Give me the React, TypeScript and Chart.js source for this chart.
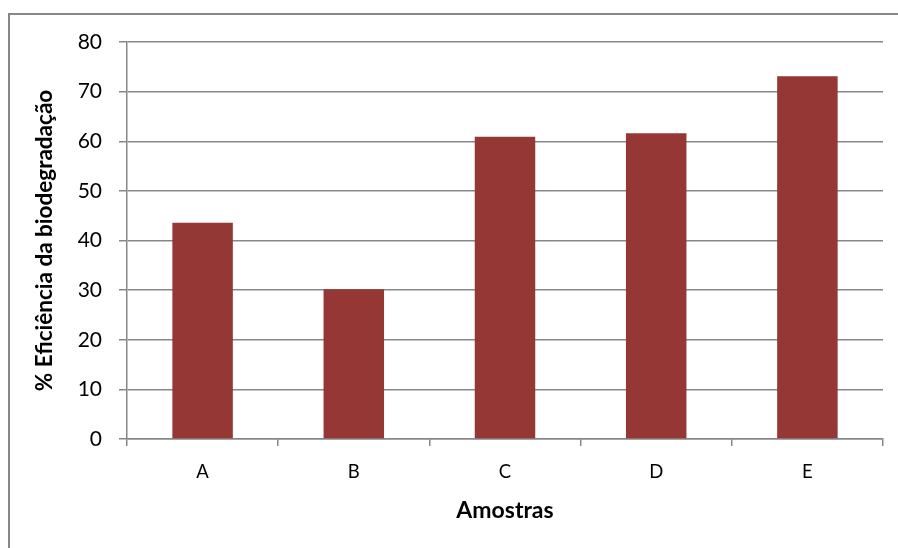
import React, { useEffect, useRef } from "react";
import { Chart, registerables } from "chart.js";

Chart.register(...registerables);

const categories: string[] = ["A", "B", "C", "D", "E"];
const efficiency: number[] = [43.6, 30.2, 60.9, 61.6, 73.1];
const yTicks: number[] = [0, 10, 20, 30, 40, 50, 60, 70, 80];

const yTitle = "% Eficiência da biodegradação";
const xTitle = "Amostras";

const FONT = "Lato, 'Open Sans', sans-serif";
const GRID = "#878787";
const BAR = "#953735";

// Outer frame of the chart area (left and top edges inside the canvas)
const framePlugin = {
  id: "frame",
  beforeDraw(chart: Chart) {
    const { ctx } = chart;
    ctx.save();
    ctx.strokeStyle = GRID;
    ctx.lineWidth = 2;
    ctx.beginPath();
    ctx.moveTo(9, chart.height + 2);
    ctx.lineTo(9, 14);
    ctx.lineTo(chart.width + 2, 14);
    ctx.stroke();
    ctx.restore();
  },
};

export default function App() {
  const canvasRef = useRef<HTMLCanvasElement | null>(null);

  useEffect(() => {
    if (!canvasRef.current) return;
    const chart = new Chart(canvasRef.current, {
      type: "bar",
      data: {
        labels: categories,
        datasets: [
          {
            label: yTitle,
            data: efficiency,
            backgroundColor: BAR,
            borderWidth: 0,
            barPercentage: 0.4,
            categoryPercentage: 1,
          },
        ],
      },
      options: {
        animation: false,
        responsive: false,
        maintainAspectRatio: false,
        layout: { padding: { left: 0, right: 15, top: 42, bottom: 0 } },
        plugins: {
          legend: { display: false },
          tooltip: { enabled: false },
        },
        scales: {
          x: {
            grid: {
              drawOnChartArea: false,
              drawTicks: true,
              tickLength: 7,
              color: GRID,
              lineWidth: 1.5,
              offset: true,
            },
            border: { color: GRID, width: 1.5 },
            ticks: {
              color: "#000",
              font: { family: FONT, size: 18.5 },
              padding: 15,
            },
            title: {
              display: true,
              text: xTitle,
              color: "#000",
              font: { family: FONT, size: 23, weight: "bold" },
              padding: { top: 0, bottom: 24 },
            },
            afterFit(scale: any) {
              scale.height = 109;
            },
          },
          y: {
            min: 0,
            max: 80,
            afterBuildTicks(scale: any) {
              scale.ticks = yTicks.map((v) => ({ value: v }));
            },
            grid: {
              color: GRID,
              lineWidth: 1.5,
              tickLength: 8,
            },
            border: { color: GRID, width: 1.5 },
            ticks: {
              color: "#000",
              font: { family: FONT, size: 21 },
              padding: 17,
            },
            title: {
              display: true,
              text: yTitle,
              color: "#000",
              font: { family: FONT, size: 22.5, weight: "bold" },
              padding: { top: 31, bottom: 0 },
            },
            afterFit(scale: any) {
              scale.width = 127;
            },
          },
        },
      },
      plugins: [framePlugin],
    });
    return () => chart.destroy();
  }, []);

  return (
    <div style={{ position: "fixed", left: 0, top: 0, width: 898, height: 548, background: "#fff" }}>
      <canvas ref={canvasRef} width={898} height={548} style={{ display: "block", width: 898, height: 548 }} />
    </div>
  );
}
